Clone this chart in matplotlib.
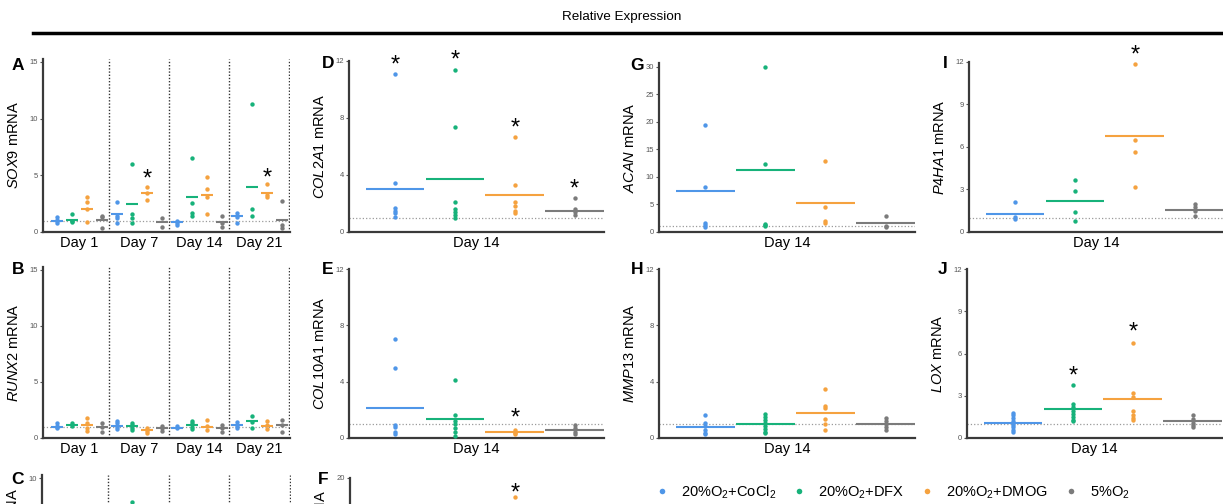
import matplotlib
matplotlib.use("Agg")
import matplotlib.pyplot as plt
from matplotlib.lines import Line2D

plt.rcParams['font.family'] = ['Liberation Sans', 'DejaVu Sans']
plt.rcParams['mathtext.fontset'] = 'custom'
plt.rcParams['mathtext.rm'] = 'Liberation Sans'
plt.rcParams['mathtext.it'] = 'Liberation Sans:italic'

W, H = 1223, 504

colors = ['#4f96e8', '#17b27a', '#f5a23f', '#7b7b7b']
conditions = ['20%O$_2$+CoCl$_2$', '20%O$_2$+DFX', '20%O$_2$+DMOG', '5%O$_2$']
days = ['Day 1', 'Day 7', 'Day 14', 'Day 21']

# time course panels: 16 groups = day x condition
sox9_pts = [[1.3, 1.1, 0.95, 0.8], [1.6, 1.0, 0.85], [3.1, 2.65, 2.05, 0.9], [1.45, 1.3, 0.35],
            [2.65, 1.45, 1.2, 0.8], [6.0, 1.6, 1.2, 0.8], [3.95, 3.4, 2.85], [1.2, 0.45],
            [1.0, 0.8, 0.6], [6.55, 2.55, 1.7, 1.45], [4.85, 3.8, 3.1, 1.6], [1.45, 0.75, 0.45],
            [1.7, 1.3, 0.8], [11.3, 2.0, 1.4], [4.25, 3.25, 3.1], [2.7, 0.6, 0.35]]
sox9_mean = [0.95, 1.05, 2.05, 1.05, 1.55, 2.45, 3.45, 0.9, 0.9, 3.1, 3.3, 0.85, 1.4, 4.0, 3.45, 1.05]
sox9_stars = [(6, 5.15), (14, 5.3)]

runx2_pts = [[1.3, 1.1, 0.95, 0.85], [1.3, 1.1], [1.8, 1.35, 0.85, 0.6], [1.3, 1.0, 0.55],
             [1.5, 1.3, 1.0, 0.8], [1.35, 1.15, 0.9, 0.75], [0.85, 0.65, 0.45], [1.1, 0.85, 0.65],
             [1.1, 0.85], [1.5, 1.3, 1.0, 0.8], [1.6, 1.05, 0.7], [1.15, 0.85, 0.55],
             [1.45, 1.1, 0.85], [1.95, 1.45, 0.9], [1.5, 1.15, 0.8], [1.6, 1.15, 0.55]]
runx2_mean = [1.0, 1.2, 1.2, 1.0, 1.05, 1.05, 0.75, 0.9, 0.9, 1.15, 1.0, 0.9, 1.2, 1.5, 1.1, 1.15]

# panel C is cut off at the bottom, only one point visible
c_pts = [[], [], [], [], [], [8.6], [], [], [], [], [], [], [], [], [], []]

# day 14 panels: 4 conditions
col2a1_pts = [[11.1, 3.45, 1.7, 1.5, 1.3, 1.05], [11.4, 7.35, 2.1, 1.6, 1.4, 1.2, 1.0],
              [6.7, 3.3, 2.1, 1.8, 1.5, 1.3], [2.4, 1.6, 1.4, 1.2]]
col2a1_mean = [3.0, 3.7, 2.6, 1.5]
col2a1_stars = [(0, 12.15), (1, 12.45), (2, 7.7), (3, 3.4)]

col10a1_pts = [[7.05, 5.0, 0.95, 0.8, 0.45, 0.3], [4.1, 1.65, 1.2, 1.0, 0.7, 0.4, 0.15],
               [0.55, 0.45, 0.35, 0.3], [0.95, 0.7, 0.4, 0.25]]
col10a1_mean = [2.15, 1.35, 0.4, 0.6]
col10a1_stars = [(2, 1.8)]

f_pts = [[], [], [17.8], []]
f_stars = [(2, 18.9)]

acan_pts = [[19.5, 8.2, 1.6, 1.2, 0.9], [30.0, 12.3, 1.4, 1.2, 1.1], [12.9, 4.6, 2.0, 1.6], [2.9, 1.1, 0.9]]
acan_mean = [7.5, 11.2, 5.3, 1.6]

mmp13_pts = [[1.6, 1.05, 0.85, 0.6, 0.35, 0.25], [1.7, 1.5, 1.25, 1.05, 0.85, 0.65, 0.45, 0.35],
             [3.5, 2.3, 2.1, 1.35, 1.0, 0.55], [1.4, 1.2, 1.0, 0.75, 0.6]]
mmp13_mean = [0.8, 1.0, 1.8, 1.0]

p4ha1_pts = [[2.15, 1.05, 0.95], [3.65, 2.9, 1.4, 0.75], [11.85, 6.5, 5.65, 3.2], [1.95, 1.75, 1.5, 1.15]]
p4ha1_mean = [1.3, 2.2, 6.8, 1.55]
p4ha1_stars = [(2, 12.9)]

lox_pts = [[1.8, 1.6, 1.4, 1.2, 1.05, 0.95, 0.8, 0.6, 0.45], [3.75, 2.4, 2.2, 1.9, 1.7, 1.5, 1.3, 1.2],
           [6.75, 3.2, 2.9, 1.9, 1.6, 1.4, 1.3], [1.65, 1.35, 1.1, 0.9, 0.75]]
lox_mean = [1.05, 2.05, 2.75, 1.2]
lox_stars = [(1, 4.8), (2, 7.9)]

fig = plt.figure(figsize=(W / 100, H / 100), dpi=100)


def make_ax(left, right, y0, tick_top, tick_px, ymax, yticks, ylabel, letter, letter_xy, label_y=0.5):
    scale = (y0 - tick_px) / tick_top
    top = y0 - ymax * scale
    ax = fig.add_axes([left / W, 1 - y0 / H, (right - left) / W, (y0 - top) / H])
    ax.set_ylim(0, ymax)
    ax.set_yticks(yticks)
    for s in ['top', 'right']:
        ax.spines[s].set_visible(False)
    for s in ['left', 'bottom']:
        ax.spines[s].set_color('#3a3a3a')
        ax.spines[s].set_linewidth(1.6)
    ax.tick_params(axis='y', length=2.5, width=0.8, colors='#555555', labelsize=5.5, pad=1)
    ax.tick_params(axis='x', length=0, labelsize=10.5, pad=3)
    ax.axhline(1, color='#9a9a9a', ls=':', lw=0.9, zorder=1)
    ax.set_ylabel(ylabel, fontsize=10.5)
    ax.yaxis.set_label_coords(-22 / (right - left), label_y)
    fig.text(letter_xy[0] / W, 1 - letter_xy[1] / H, letter, fontsize=12.5, fontweight='bold',
             ha='center', va='center')
    return ax


def stars(ax, items):
    for x, y in items:
        ax.annotate('*', (x, y), xytext=(0, -4.5), textcoords='offset points',
                    ha='center', va='center', fontsize=17, annotation_clip=False)


def course(ax, pts, means, show_days=True):
    for d in range(4):
        for c in range(4):
            i = 4 * d + c
            if pts[i]:
                ax.scatter([i] * len(pts[i]), pts[i], s=10, color=colors[c], lw=0, zorder=3, clip_on=False)
            if means is not None:
                ax.hlines(means[i], i - 0.43, i + 0.43, color=colors[c], lw=1.5, zorder=2)
        ax.axvline(4 * d + 3.45, color='#333333', ls=(0, (1, 1.3)), lw=1)
    ax.set_xlim(-0.93, 15.53)
    if show_days:
        ax.set_xticks([4 * d + 1.45 for d in range(4)], days)
    else:
        ax.set_xticks([])


def single(ax, pts, means, show_day=True):
    for c in range(4):
        if pts[c]:
            ax.scatter([c] * len(pts[c]), pts[c], s=10, color=colors[c], lw=0, zorder=3, clip_on=False)
        if means is not None:
            ax.hlines(means[c], c - 0.49, c + 0.49, color=colors[c], lw=1.5, zorder=2)
    ax.set_xlim(-0.77, 3.49)
    if show_day:
        ax.set_xticks([(-0.77 + 3.49) / 2], ['Day 14'])
    else:
        ax.set_xticks([])


axA = make_ax(43, 290, 232, 15, 62, 15.3, [0, 5, 10, 15], r'$\mathit{SOX9}$ mRNA', 'A', (18, 65))
course(axA, sox9_pts, sox9_mean)
stars(axA, sox9_stars)

axB = make_ax(43, 290, 438, 15, 270, 15.3, [0, 5, 10, 15], r'$\mathit{RUNX2}$ mRNA', 'B', (18, 270))
course(axB, runx2_pts, runx2_mean)

# bottom row is cut by the image edge; only the top tick is visible
axC = make_ax(42, 291, 648, 10, 478, 10.2, [10], r'$\mathit{COL1A1}$ mRNA', 'C', (18, 479),
              label_y=0.62)
course(axC, c_pts, None, show_days=False)

axD = make_ax(349, 604, 232, 12, 61, 12, [0, 4, 8, 12], r'$\mathit{COL2A1}$ mRNA', 'D', (328, 63))
single(axD, col2a1_pts, col2a1_mean)
stars(axD, col2a1_stars)

axE = make_ax(349, 604, 438, 12, 269, 12, [0, 4, 8, 12], r'$\mathit{COL10A1}$ mRNA', 'E', (328, 270))
single(axE, col10a1_pts, col10a1_mean)
stars(axE, col10a1_stars)

axF = make_ax(350, 604, 648, 20, 478, 20, [20], r'$\mathit{COL1A1}$ mRNA', 'F', (323, 479),
              label_y=0.62)
single(axF, f_pts, None, show_day=False)
stars(axF, f_stars)

axG = make_ax(659, 915, 232, 30, 67, 30.7, [0, 5, 10, 15, 20, 25, 30], r'$\mathit{ACAN}$ mRNA', 'G', (637, 65))
single(axG, acan_pts, acan_mean)

axH = make_ax(659, 915, 438, 12, 269, 12, [0, 4, 8, 12], r'$\mathit{MMP13}$ mRNA', 'H', (637, 270))
single(axH, mmp13_pts, mmp13_mean)

axI = make_ax(969, 1224, 232, 12, 62, 12, [0, 3, 6, 9, 12], r'$\mathit{P4HA1}$ mRNA', 'I', (945, 63))
single(axI, p4ha1_pts, p4ha1_mean)
stars(axI, p4ha1_stars)

axJ = make_ax(967, 1222, 438, 12, 269, 12, [0, 3, 6, 9, 12], r'$\mathit{LOX}$ mRNA', 'J', (943, 270))
single(axJ, lox_pts, lox_mean)
stars(axJ, lox_stars)

fig.text(622 / W, 1 - 17 / H, 'Relative Expression', ha='center', va='center', fontsize=9.7)
fig.add_artist(Line2D([33 / W, 1.0], [1 - 33 / H, 1 - 33 / H], color='black', lw=2.5))

handles = [Line2D([], [], marker='o', ls='', color=c, markersize=4, markeredgewidth=0) for c in colors]
fig.legend(handles, conditions, loc='center', bbox_to_anchor=(893 / W, 1 - 492 / H), ncol=4,
           frameon=False, fontsize=10.5, handlelength=0.8, handletextpad=0.9, columnspacing=1.15)

fig.savefig('out.png', dpi=100)
